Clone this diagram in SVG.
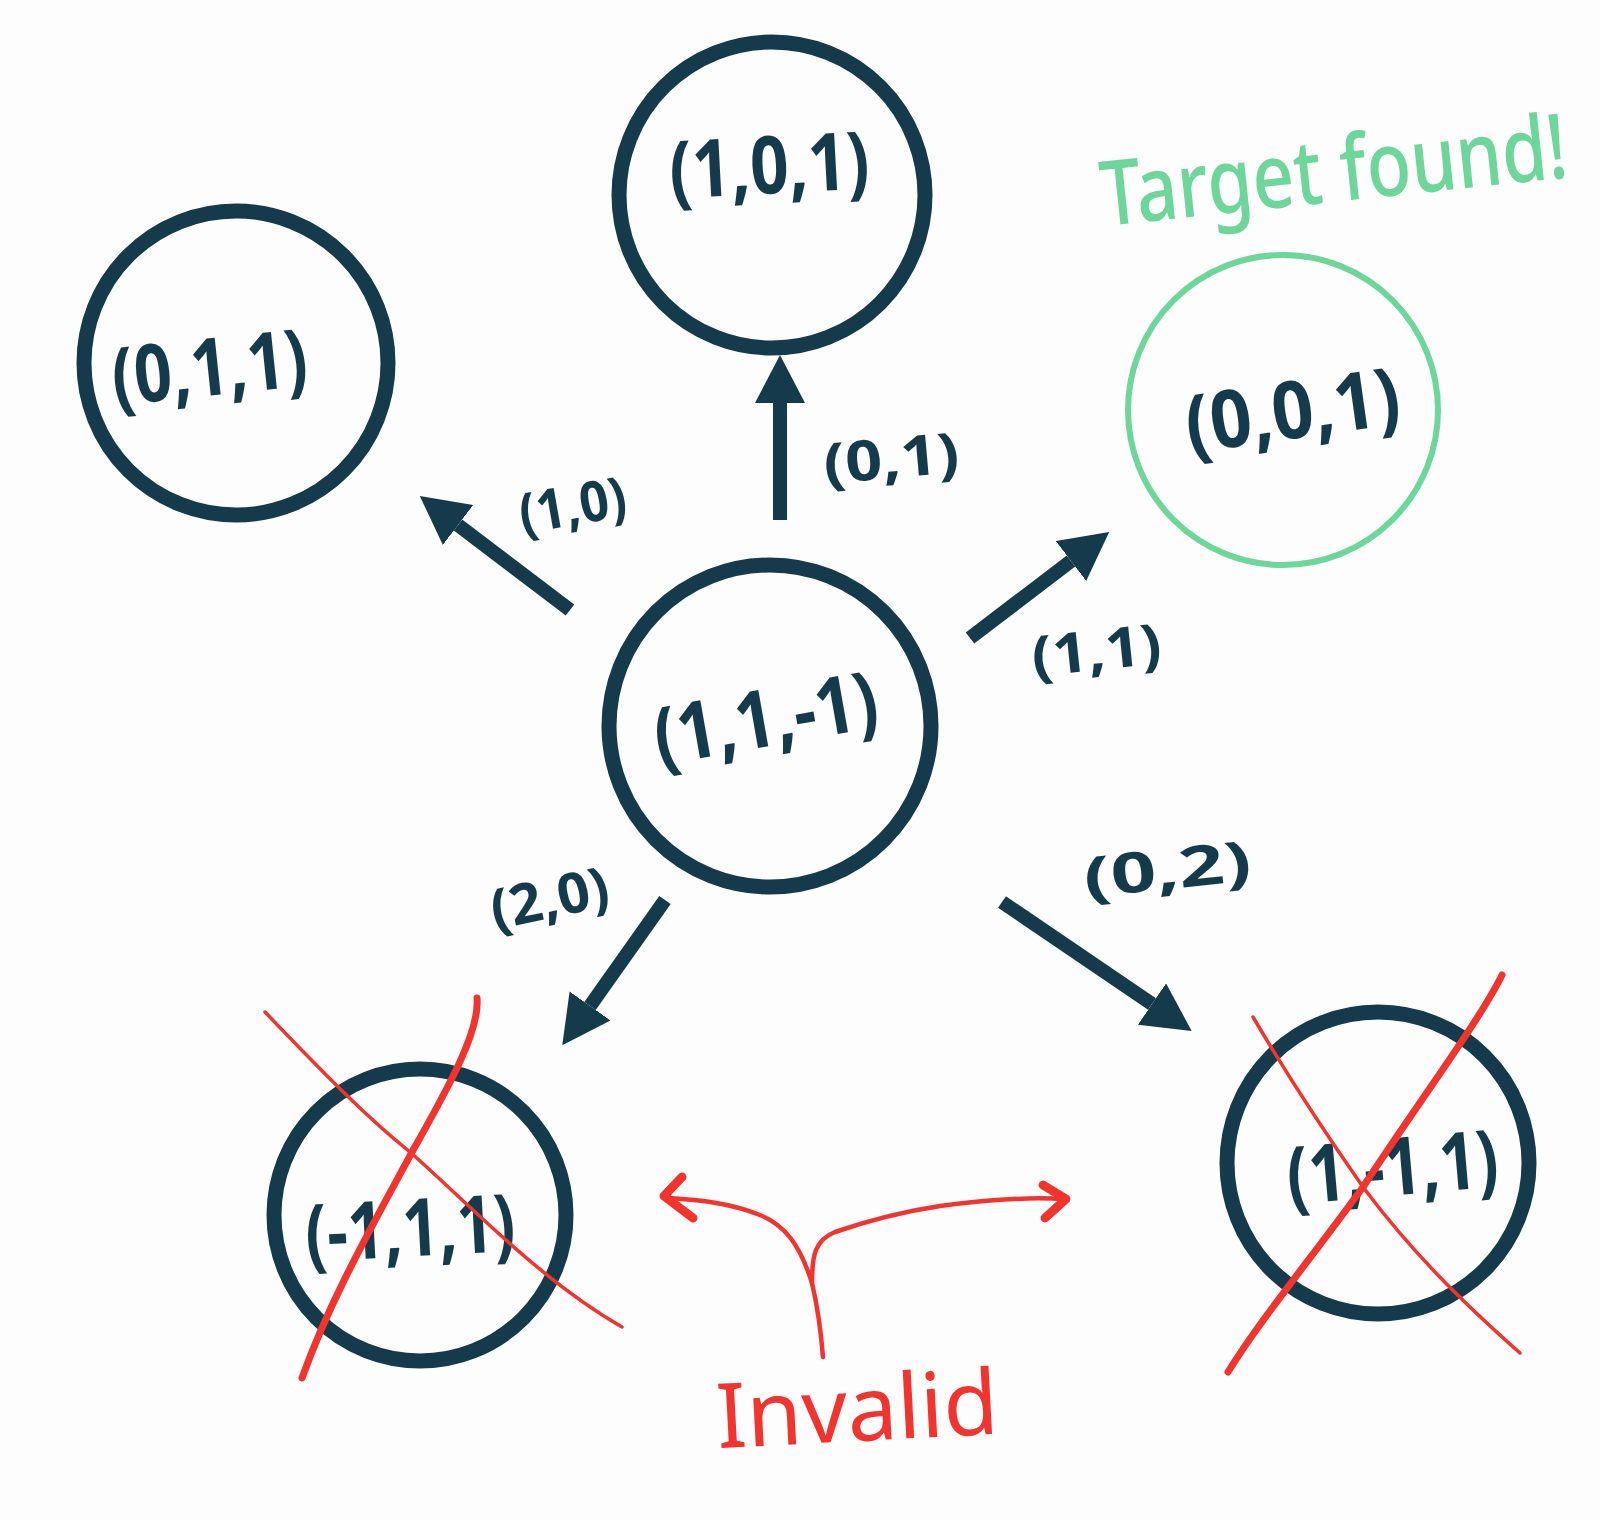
<svg xmlns="http://www.w3.org/2000/svg" width="1600" height="1520" viewBox="0 0 1600 1520">
  <style>
    .node { fill: none; stroke: #153a4b; stroke-width: 15; }
    .goal { fill: none; stroke: #6dd69a; stroke-width: 6; }
    .lbl { font-family: "Open Sans", "Liberation Sans", sans-serif; font-weight: 700; fill: #153a4b; text-anchor: middle; dominant-baseline: central; }
    .node-lbl { font-size: 80px; }
    .edge-lbl { font-size: 56px; }
    .edge { fill: none; stroke: #153a4b; stroke-width: 14; marker-end: url(#head); }
    .cross-thin { fill: none; stroke: #f2342e; stroke-width: 3.5; stroke-linecap: round; }
    .cross-bold { fill: none; stroke: #f2342e; stroke-width: 7; stroke-linecap: round; }
    .note { fill: none; stroke: #f2342e; stroke-width: 4.5; stroke-linecap: round; stroke-linejoin: round; }
    .note-head { fill: none; stroke: #f2342e; stroke-width: 9; stroke-linecap: round; stroke-linejoin: round; }
  </style>
  <defs>
    <marker id="head" markerUnits="userSpaceOnUse" markerWidth="50" markerHeight="52" refX="0" refY="25" orient="auto">
      <path d="M0,0 L48,25 L0,50 Z" fill="#153a4b"/>
    </marker>
  </defs>

  <rect width="1600" height="1520" fill="#fdfdfd"/>

  <!-- connectors -->
  <g id="connectors">
    <path class="edge" d="M780,520 L780,403"/>
    <path class="edge" d="M570,610 L458,525"/>
    <path class="edge" d="M970,638 L1071,561"/>
    <path class="edge" d="M665,900 L590,1006"/>
    <path class="edge" d="M1002,902 L1152,1004"/>
    <text class="lbl edge-lbl" x="572" y="503" textLength="108" lengthAdjust="spacingAndGlyphs" transform="rotate(-10 572 503)">(1,0)</text>
    <text class="lbl edge-lbl" x="891" y="456" textLength="136" lengthAdjust="spacingAndGlyphs" transform="rotate(-5 891 456)">(0,1)</text>
    <text class="lbl edge-lbl" x="1096" y="648" textLength="130" lengthAdjust="spacingAndGlyphs" transform="rotate(-6 1096 648)">(1,1)</text>
    <text class="lbl edge-lbl" x="549" y="896" textLength="120" lengthAdjust="spacingAndGlyphs" transform="rotate(-12 549 896)">(2,0)</text>
    <text class="lbl edge-lbl" x="1167" y="867" textLength="168" lengthAdjust="spacingAndGlyphs" transform="rotate(-6 1167 867)">(0,2)</text>
  </g>

  <!-- states -->
  <g id="node-101">
    <circle class="node" cx="772" cy="195" r="153"/>
    <text class="lbl node-lbl" x="769" y="162" textLength="200" lengthAdjust="spacingAndGlyphs" transform="rotate(-3 769 162)">(1,0,1)</text>
  </g>
  <g id="node-011">
    <circle class="node" cx="236" cy="363" r="152"/>
    <text class="lbl node-lbl" x="209" y="364" textLength="196" lengthAdjust="spacingAndGlyphs" transform="rotate(-6 209 364)">(0,1,1)</text>
  </g>
  <g id="node-001">
    <circle class="goal" cx="1283" cy="410" r="155"/>
    <text class="lbl node-lbl" x="1292" y="407" textLength="216" lengthAdjust="spacingAndGlyphs" transform="rotate(-8 1292 407)">(0,0,1)</text>
  </g>
  <g id="node-11m1">
    <circle class="node" cx="770" cy="726" r="161"/>
    <text class="lbl node-lbl" x="765" y="715" textLength="226" lengthAdjust="spacingAndGlyphs" transform="rotate(-10 765 715)">(1,1,-1)</text>
  </g>
  <g id="node-m111">
    <circle class="node" cx="420" cy="1215" r="146"/>
    <text class="lbl node-lbl" x="410" y="1225" textLength="210" lengthAdjust="spacingAndGlyphs" transform="rotate(-3 410 1225)">(-1,1,1)</text>
    <path class="cross-thin" d="M265,1012 C330,1080 370,1120 410,1152 C470,1205 540,1280 622,1327"/>
    <path class="cross-bold" d="M477,998 C480,1030 450,1085 412,1152 C370,1230 330,1300 302,1378"/>
  </g>
  <g id="node-1m11">
    <circle class="node" cx="1378" cy="1163" r="151"/>
    <text class="lbl node-lbl" x="1392" y="1164" textLength="212" lengthAdjust="spacingAndGlyphs" transform="rotate(-5 1392 1164)">(1,-1,1)</text>
    <path class="cross-thin" d="M1253,1017 C1290,1080 1330,1140 1363,1187 C1410,1250 1460,1300 1520,1353"/>
    <path class="cross-bold" d="M1502,975 C1480,1020 1420,1100 1363,1187 C1310,1260 1260,1320 1228,1372"/>
  </g>

  <!-- annotations -->
  <g id="target-note">
    <text x="1104" y="226" font-family="'Noto Sans', 'Open Sans', sans-serif" font-size="90" font-weight="500" fill="#6dd69a" textLength="468" lengthAdjust="spacingAndGlyphs" transform="rotate(-6 1104 226)">Target found!</text>
  </g>
  <g id="invalid-note">
    <path class="note" d="M823,1357 C820,1320 816,1300 812,1283 C800,1245 785,1225 760,1215 C730,1203 700,1200 668,1198"/>
    <path class="note" d="M812,1283 C812,1255 815,1240 835,1232 C870,1220 900,1212 940,1206 C985,1200 1030,1197 1063,1199"/>
    <path class="note-head" d="M682,1177 L664,1196 L693,1218"/>
    <path class="note-head" d="M1043,1185 L1066,1199 L1045,1218"/>
    <text x="857" y="1406" font-family="'Noto Sans', 'Open Sans', sans-serif" font-size="90" fill="#f2342e" text-anchor="middle" dominant-baseline="central" textLength="282" lengthAdjust="spacingAndGlyphs" transform="rotate(-3 857 1406)">Invalid</text>
  </g>
</svg>
